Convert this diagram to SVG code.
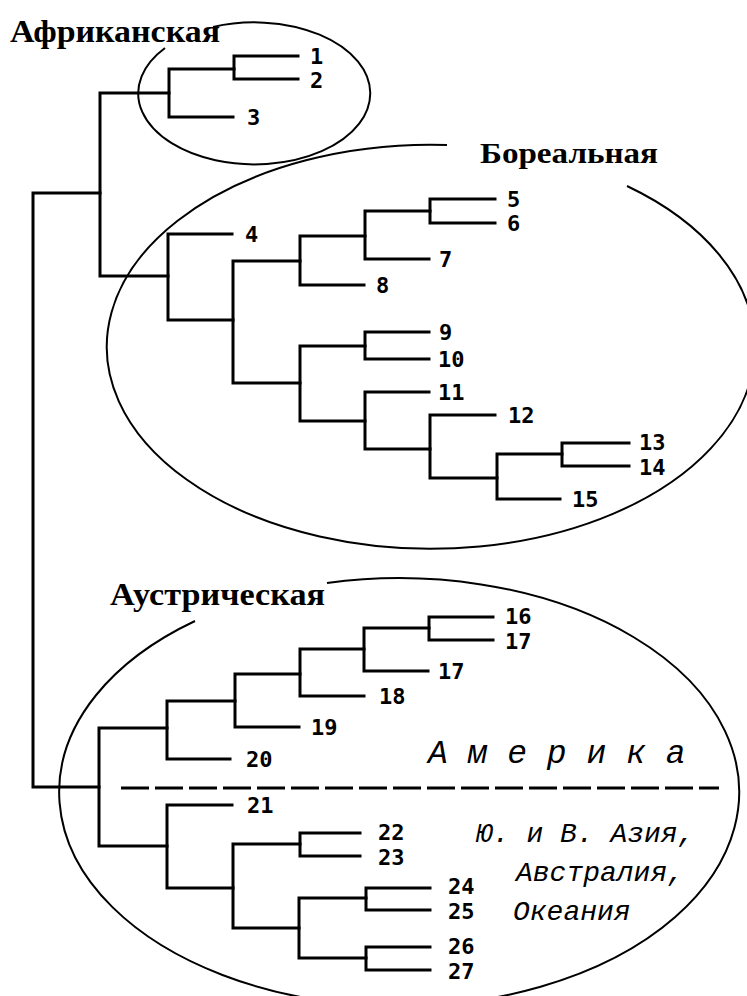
<svg xmlns="http://www.w3.org/2000/svg" width="747" height="996" viewBox="0 0 747 996">
<style>
.tree path{fill:none;stroke:#000;stroke-width:3;stroke-linecap:square;stroke-linejoin:miter}
.ell{fill:none;stroke:#000;stroke-width:2}
.num{font-family:"DejaVu Sans Mono","Liberation Mono",monospace;font-weight:bold;font-size:22px;fill:#000}
.grp{font-family:"Liberation Serif","Times New Roman",serif;font-weight:bold;fill:#000}
.reg{font-family:"Liberation Mono","Courier New",monospace;font-style:italic;fill:#000}
</style>
<rect width="747" height="996" fill="#fff"/>
<g id="regions">
<path id="africa-ellipse" class="ell" d="M213 27 A116 71 0 1 1 165 48"/>
<path id="boreal-ellipse" class="ell" d="M627 186 A324 202 0 1 1 447 145"/>
<path id="austric-ellipse" class="ell" d="M327 583 A340 214 0 1 1 195 621"/>
<line id="divider" x1="121" y1="788" x2="719" y2="788" stroke="#000" stroke-width="3" stroke-dasharray="28 6"/>
</g>
<g id="connectors" class="tree">
<path d="M100 193 H33 V787 H99"/>
<path d="M169 93 H100 V276 H168"/>
<path d="M234 69 H169 V117 H233"/>
<path d="M298 56 H234 V79 H298"/>
<path d="M232 234 H168 V320 H233"/>
<path d="M300 261 H233 V383 H300"/>
<path d="M365 236 H300 V285 H364"/>
<path d="M430 211 H365 V259 H429"/>
<path d="M495 199 H430 V223 H495"/>
<path d="M365 346 H300 V421 H365"/>
<path d="M429 332 H365 V359 H429"/>
<path d="M429 392 H365 V449 H430"/>
<path d="M495 415 H430 V478 H497"/>
<path d="M562 454 H497 V499 H560"/>
<path d="M629 443 H562 V466 H629"/>
<path d="M167 728 H99 V846 H167"/>
<path d="M235 701 H167 V759 H230"/>
<path d="M300 674 H235 V727 H299"/>
<path d="M364 649 H300 V696 H364"/>
<path d="M429 628 H364 V671 H428"/>
<path d="M493 617 H429 V640 H493"/>
<path d="M232 805 H167 V888 H233"/>
<path d="M300 844 H233 V928 H299"/>
<path d="M360 833 H300 V856 H360"/>
<path d="M366 898 H299 V958 H366"/>
<path d="M430 888 H366 V910 H430"/>
<path d="M430 947 H366 V970 H430"/>
</g>
<g id="labels">
<text class="grp" x="10" y="42" font-size="32" textLength="210" lengthAdjust="spacingAndGlyphs">Африканская</text>
<text class="grp" x="480" y="163" font-size="29" textLength="178" lengthAdjust="spacingAndGlyphs">Бореальная</text>
<text class="grp" x="110" y="605" font-size="32" textLength="215" lengthAdjust="spacingAndGlyphs">Аустрическая</text>
<text class="reg" x="428" y="763" font-size="33">А м е р и к а</text>
<text class="reg" x="476" y="842" font-size="28">Ю. и В. Азия,</text>
<text class="reg" x="516" y="881" font-size="28">Австралия,</text>
<text class="reg" x="513" y="920" font-size="28">Океания</text>
</g>
<g id="leaves">
<text id="n1" class="num" x="310" y="64">1</text>
<text id="n2" class="num" x="310" y="88">2</text>
<text id="n3" class="num" x="247" y="125">3</text>
<text id="n4" class="num" x="245" y="242">4</text>
<text id="n5" class="num" x="507" y="207">5</text>
<text id="n6" class="num" x="507" y="231">6</text>
<text id="n7" class="num" x="439" y="267">7</text>
<text id="n8" class="num" x="376" y="293">8</text>
<text id="n9" class="num" x="439" y="340">9</text>
<text id="n10" class="num" x="438" y="367">10</text>
<text id="n11" class="num" x="438" y="400">11</text>
<text id="n12" class="num" x="508" y="423">12</text>
<text id="n13" class="num" x="639" y="450">13</text>
<text id="n14" class="num" x="639" y="475">14</text>
<text id="n15" class="num" x="572" y="507">15</text>
<text id="n16" class="num" x="505" y="624">16</text>
<text id="n17a" class="num" x="505" y="649">17</text>
<text id="n17b" class="num" x="438" y="679">17</text>
<text id="n18" class="num" x="379" y="704">18</text>
<text id="n19" class="num" x="311" y="735">19</text>
<text id="n20" class="num" x="246" y="767">20</text>
<text id="n21" class="num" x="247" y="813">21</text>
<text id="n22" class="num" x="378" y="840">22</text>
<text id="n23" class="num" x="378" y="865">23</text>
<text id="n24" class="num" x="448" y="894">24</text>
<text id="n25" class="num" x="448" y="919">25</text>
<text id="n26" class="num" x="448" y="954">26</text>
<text id="n27" class="num" x="448" y="979">27</text>
</g>
</svg>
